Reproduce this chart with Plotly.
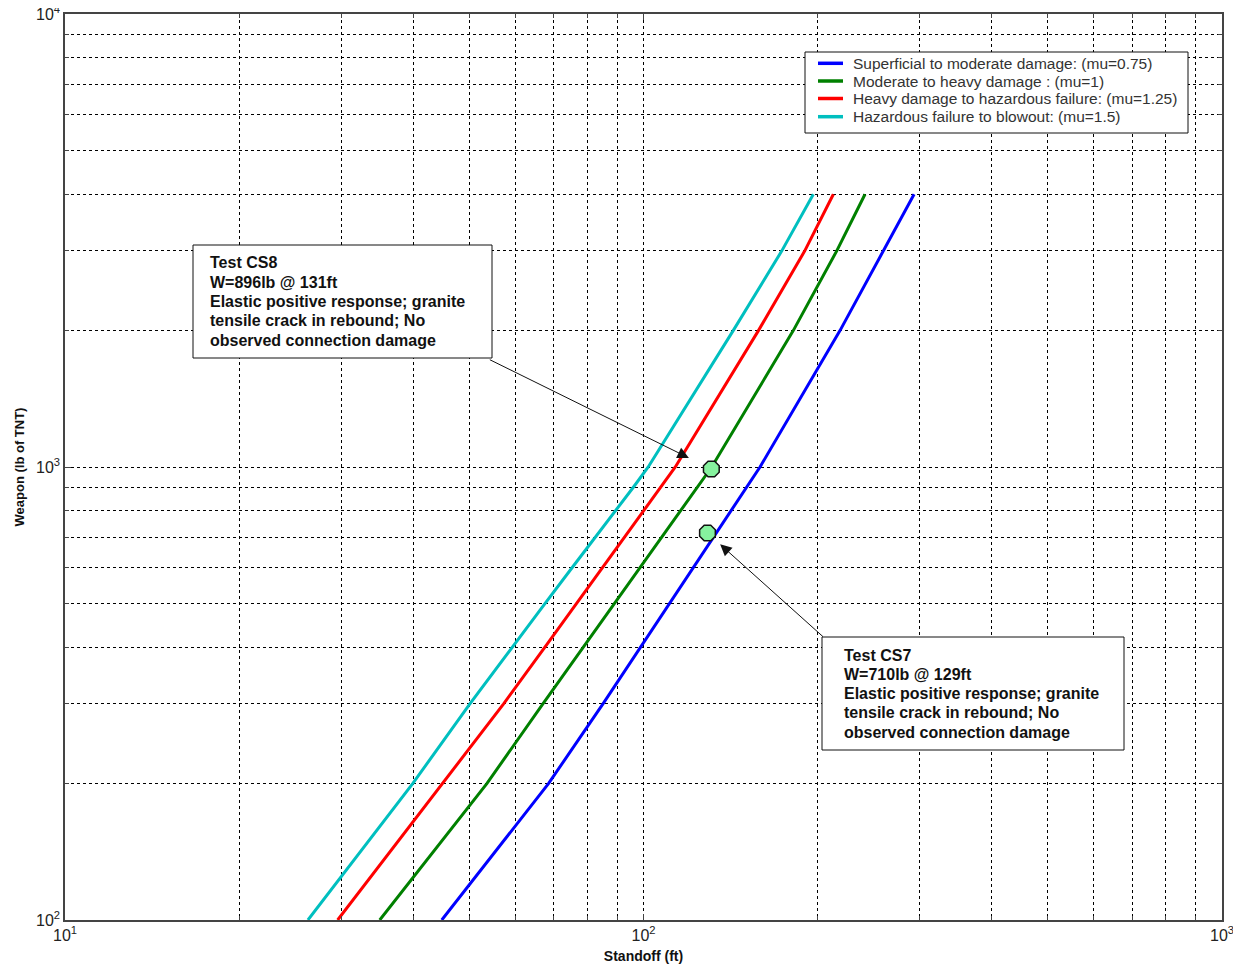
import numpy as np
import plotly.graph_objects as go

# ---------------- data ----------------
weights = [100, 200, 300, 400, 500, 600, 700, 800, 900, 1000, 2000, 3000, 4000]
standoff_mu075 = [44.8, 68.5, 85.1, 98.8, 110.9, 121.9, 132.0, 141.5, 150.4, 159.0, 218.6, 259.8, 293.6]
standoff_mu100 = [35.0, 53.6, 67.0, 78.7, 89.1, 98.7, 107.5, 115.9, 123.8, 131.2, 181.5, 215.8, 241.5]
standoff_mu125 = [29.6, 44.9, 57.3, 67.5, 76.6, 84.9, 92.7, 100.0, 106.9, 113.5, 158.0, 190.0, 212.9]
standoff_mu150 = [26.3, 39.9, 50.1, 59.2, 67.6, 75.3, 82.6, 89.5, 95.9, 101.9, 142.9, 173.4, 196.6]

series_names = [
    "Superficial to moderate damage: (mu=0.75)",
    "Moderate to heavy damage : (mu=1)",
    "Heavy damage to hazardous failure: (mu=1.25)",
    "Hazardous failure to blowout: (mu=1.5)",
]
series_colors = ["#0000ff", "#008000", "#ff0000", "#00bfbf"]

test_labels = ["Test CS8", "Test CS7"]
test_standoff = [131, 129]          # ft (plotted position)
test_weight = [990, 715]            # lb (plotted position)
test_stated_weight = [896, 710]     # lb (as written in the notes)
test_notes = [
    ["Elastic positive response; granite", "tensile crack in rebound; No", "observed connection damage"],
    ["Elastic positive response; granite", "tensile crack in rebound; No", "observed connection damage"],
]

x_tick_vals = [10, 100, 1000]
x_tick_text = ["10<sup>1</sup>", "10<sup>2</sup>", "10<sup>3</sup>"]
y_tick_vals = [100, 1000, 10000]
y_tick_text = ["10<sup>2</sup>", "10<sup>3</sup>", "10<sup>4</sup>"]
x_minor = [m * 10 ** e for e in (1, 2) for m in range(2, 10)]
y_minor = [m * 10 ** e for e in (2, 3) for m in range(2, 10)]

# ---------------- layout geometry (page pixels of the reference) ----------------
OFF = 8                       # default body margin of the html page
PL, PR, PT, PB = 65, 1222, 14, 920   # plot area in page pixels
W, H = 1225, 956
ML, MT = PL - OFF, PT - OFF
MR = W - (PR - OFF)
MB = H - (PB - OFF)
PW, PH = PR - PL, PB - PT


def px(xp):
    return (xp - PL) / PW


def py(yp):
    return (PB - yp) / PH


FONT = "Liberation Sans, Arial, sans-serif"

fig = go.Figure()
for xs, name, col in zip([standoff_mu075, standoff_mu100, standoff_mu125, standoff_mu150],
                         series_names, series_colors):
    fig.add_trace(go.Scatter(x=xs, y=weights, mode="lines", name=name,
                             line=dict(color=col, width=3)))

fig.add_trace(go.Scatter(x=test_standoff, y=test_weight, mode="markers", showlegend=False,
                         name="tests",
                         marker=dict(symbol="octagon", size=17, color="#86f29e",
                                     line=dict(color="#111111", width=1.5))))

grid = dict(showgrid=True, gridcolor="#000000", gridwidth=1, griddash="3px,3px")
axis_common = dict(type="log", showline=True, linecolor="#444444", linewidth=1.5, mirror="ticks",
                   ticks="inside", ticklen=6, tickcolor="#444444", zeroline=False,
                   ticklabeloverflow="allow",
                   tickfont=dict(family=FONT, size=16, color="#222222"), **grid)

fig.update_layout(
    width=W, height=H,
    margin=dict(l=ML, r=MR, t=MT, b=MB, autoexpand=False),
    paper_bgcolor="white", plot_bgcolor="white",
    xaxis=dict(range=[1, 3], tickmode="array", tickvals=x_tick_vals, ticktext=x_tick_text,
               minor=dict(tickmode="array", tickvals=x_minor, ticks="inside", ticklen=4,
                          tickcolor="#444444", **grid),
               title=dict(text="<b>Standoff (ft)</b>", font=dict(family=FONT, size=14, color="#111"),
                          standoff=11),
               **axis_common),
    yaxis=dict(range=[2, 4], tickmode="array", tickvals=y_tick_vals, ticktext=y_tick_text,
               minor=dict(tickmode="array", tickvals=y_minor, ticks="inside", ticklen=4,
                          tickcolor="#444444", **grid),
               title=dict(text="<b>Weapon (lb of TNT)</b>", font=dict(family=FONT, size=13, color="#111"),
                          standoff=8),
               **axis_common),
    showlegend=False,
)

# legend box drawn to the reference's compact MATLAB layout
LEG = (805, 52, 1188, 133)
leg_rows = [63.3, 81.0, 98.5, 116.7]
fig.add_shape(type="rect", xref="paper", yref="paper",
              x0=px(LEG[0]), x1=px(LEG[2]), y0=py(LEG[3]), y1=py(LEG[1]),
              line=dict(color="#111111", width=1), fillcolor="white", layer="above")
for name, col, ry in zip(series_names, series_colors, leg_rows):
    fig.add_shape(type="line", xref="paper", yref="paper",
                  x0=px(818), x1=px(843), y0=py(ry), y1=py(ry),
                  line=dict(color=col, width=3.5), layer="above")
    fig.add_annotation(xref="paper", yref="paper", x=px(851), y=py(ry),
                       xanchor="left", yanchor="middle", showarrow=False,
                       text=name, font=dict(family=FONT, size=15.5, color="#333333"))

# text boxes (pixel layout of the reference)
boxes = [(193, 245, 492, 358), (822, 637, 1124, 750)]
text_left = [208, 842]
first_line = [263, 655]
line_gap = 19.3
for i, (x0, y0, x1, y1) in enumerate(boxes):
    fig.add_shape(type="rect", xref="paper", yref="paper",
                  x0=px(x0), x1=px(x1), y0=py(y1), y1=py(y0),
                  line=dict(color="#111111", width=1), fillcolor="white", layer="above")
    lines = [test_labels[i], f"W={test_stated_weight[i]}lb @ {test_standoff[i]}ft"] + test_notes[i]
    for k, t in enumerate(lines):
        fig.add_annotation(xref="paper", yref="paper", x=px(text_left[i]),
                           y=py(first_line[i] + k * line_gap),
                           xanchor="left", yanchor="middle", showarrow=False,
                           text=f"<b>{t}</b>", font=dict(family=FONT, size=16, color="#111111"))

# arrows pointing at the test markers
arrow_offsets = [(-223, -110), (117, 105)]
arrow_standoff = [25, 17]
for i in range(2):
    fig.add_annotation(xref="x", yref="y", x=np.log10(test_standoff[i]), y=np.log10(test_weight[i]),
                       text="", showarrow=True, ax=arrow_offsets[i][0], ay=arrow_offsets[i][1],
                       arrowhead=2, arrowsize=2.3, arrowwidth=1, arrowcolor="#111111",
                       standoff=arrow_standoff[i])

fig.write_html("out.html")
